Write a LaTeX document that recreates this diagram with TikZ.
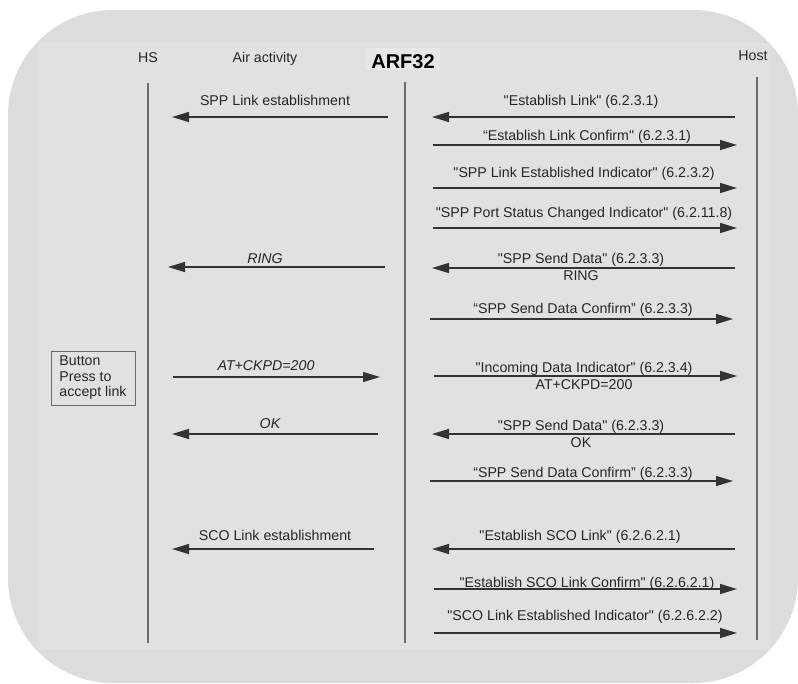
\documentclass[tikz,border=0pt]{standalone}
\usepackage{fontspec}
\setmainfont{Liberation Sans}[Ligatures=TeXOff]
\usetikzlibrary{arrows.meta}
\definecolor{outerbg}{HTML}{DCDCDC}
\definecolor{innerbg}{HTML}{E1E1E1}
\definecolor{titlebg}{HTML}{E7E7E7}
\definecolor{txtgray}{HTML}{262626}
\definecolor{linegray}{HTML}{333333}
\definecolor{lifegray}{HTML}{6A6A6A}
\tikzset{lbl/.style={anchor=base, inner sep=0pt, text=txtgray,
   font=\fontsize{14.2}{17}\selectfont},
 msg/.style={draw=linegray, line width=1.4pt,
   -{Triangle[length=17pt,width=10pt]}},
 life/.style={draw=lifegray, line width=1.1pt},
 }

\begin{document}
\begin{tikzpicture}[x=1pt, y=-1pt]
        \useasboundingbox (0, 0) rectangle (798, 683);
        \fill [outerbg, rounded corners=105pt] (8, 10) rectangle (798, 683);
        \fill [innerbg] (38, 43) rectangle (770, 650);
        \fill [titlebg] (365, 48) rectangle (440, 70);

        \node [lbl] (hs) at (148, 62) {HS};
        \node [lbl] (air) at (265, 62) {Air activity};
        \node [lbl, text=black, font=\fontsize{20}{24}\selectfont\bfseries] (arf) at (403, 68) {ARF32};
        \node [lbl] (host) at (753, 60) {Host};

        \coordinate (hsTop) at (148, 83);
        \coordinate (hsBot) at (148, 643);
        \coordinate (arfTop) at (405, 82);
        \coordinate (arfBot) at (405, 643);
        \coordinate (hostTop) at (757, 77);
        \coordinate (hostBot) at (757, 640);
        \draw [life] (hsTop) -- (hsBot);
        \draw [life] (arfTop) -- (arfBot);
        \draw [life] (hostTop) -- (hostBot);

        \node [lbl, draw=lifegray, line width=1pt, align=left, anchor=center,
          minimum width=84pt, minimum height=54pt,
          font=\fontsize{14.2}{15.5}\selectfont] (button) at (93, 378)
          {Button\\Press to\\accept link};

        \coordinate (airA) at (388, 117);
        \coordinate (airB) at (172, 117);
        \draw [msg] (airA) -- (airB);
        \node [lbl] (airAl) at (275, 105) {SPP Link establishment};

        \coordinate (ringA) at (385, 267);
        \coordinate (ringB) at (168, 267);
        \draw [msg] (ringA) -- (ringB);
        \node [lbl] (ringAl) at (265, 263) {\itshape RING};

        \coordinate (ckpdA) at (173, 377);
        \coordinate (ckpdB) at (380, 377);
        \draw [msg] (ckpdA) -- (ckpdB);
        \node [lbl] (ckpdAl) at (266, 370) {\itshape AT+CKPD=200};

        \coordinate (okA) at (378, 434);
        \coordinate (okB) at (172, 434);
        \draw [msg] (okA) -- (okB);
        \node [lbl] (okAl) at (270, 428) {\itshape OK};

        \coordinate (scoA) at (374, 549);
        \coordinate (scoB) at (172, 549);
        \draw [msg] (scoA) -- (scoB);
        \node [lbl] (scoAl) at (275, 540) {SCO Link establishment};

        \coordinate (estA) at (735, 117);
        \coordinate (estB) at (432, 117);
        \draw [msg] (estA) -- (estB);
        \node [lbl] (estl) at (581, 105) {"Establish Link" (6.2.3.1)};

        \coordinate (confA) at (433, 145);
        \coordinate (confB) at (737, 145);
        \draw [msg] (confA) -- (confB);
        \node [lbl] (confl) at (587, 140) {“Establish Link Confirm" (6.2.3.1)};

        \coordinate (indA) at (433, 188);
        \coordinate (indB) at (737, 188);
        \draw [msg] (indA) -- (indB);
        \node [lbl] (indl) at (584, 177) {"SPP Link Established Indicator" (6.2.3.2)};

        \coordinate (portA) at (433, 228);
        \coordinate (portB) at (737, 228);
        \draw [msg] (portA) -- (portB);
        \node [lbl] (portl) at (584, 217) {"SPP Port Status Changed Indicator" (6.2.11.8)};

        \coordinate (sendA) at (735, 268);
        \coordinate (sendB) at (432, 268);
        \draw [msg] (sendA) -- (sendB);
        \node [lbl] (sendl) at (581, 263) {"SPP Send Data" (6.2.3.3)};
        \node [lbl] (sendr) at (581, 280) {RING};

        \coordinate (sconfA) at (430, 319);
        \coordinate (sconfB) at (733, 319);
        \draw [msg] (sconfA) -- (sconfB);
        \node [lbl] (sconfl) at (583, 313) {“SPP Send Data Confirm” (6.2.3.3)};

        \coordinate (incA) at (434, 376);
        \coordinate (incB) at (737, 376);
        \draw [msg] (incA) -- (incB);
        \node [lbl] (incl) at (584, 372) {"Incoming Data Indicator" (6.2.3.4)};
        \node [lbl] (incr) at (584, 389) {AT+CKPD=200};

        \coordinate (sendokA) at (735, 434);
        \coordinate (sendokB) at (432, 434);
        \draw [msg] (sendokA) -- (sendokB);
        \node [lbl] (sendokl) at (581, 430) {"SPP Send Data" (6.2.3.3)};
        \node [lbl] (sendokr) at (581, 447) {OK};

        \coordinate (okconfA) at (430, 481);
        \coordinate (okconfB) at (733, 481);
        \draw [msg] (okconfA) -- (okconfB);
        \node [lbl] (okconfl) at (583, 477) {“SPP Send Data Confirm” (6.2.3.3)};

        \coordinate (escoA) at (735, 549);
        \coordinate (escoB) at (432, 549);
        \draw [msg] (escoA) -- (escoB);
        \node [lbl] (escol) at (580, 540) {"Establish SCO Link" (6.2.6.2.1)};

        \coordinate (escofA) at (434, 589);
        \coordinate (escofB) at (737, 589);
        \draw [msg] (escofA) -- (escofB);
        \node [lbl] (escofl) at (587, 587) {"Establish SCO Link Confirm" (6.2.6.2.1)};

        \coordinate (scoindA) at (434, 633);
        \coordinate (scoindB) at (737, 633);
        \draw [msg] (scoindA) -- (scoindB);
        \node [lbl] (scoindl) at (585, 620) {"SCO Link Established Indicator" (6.2.6.2.2)};
\end{tikzpicture}
\end{document}
